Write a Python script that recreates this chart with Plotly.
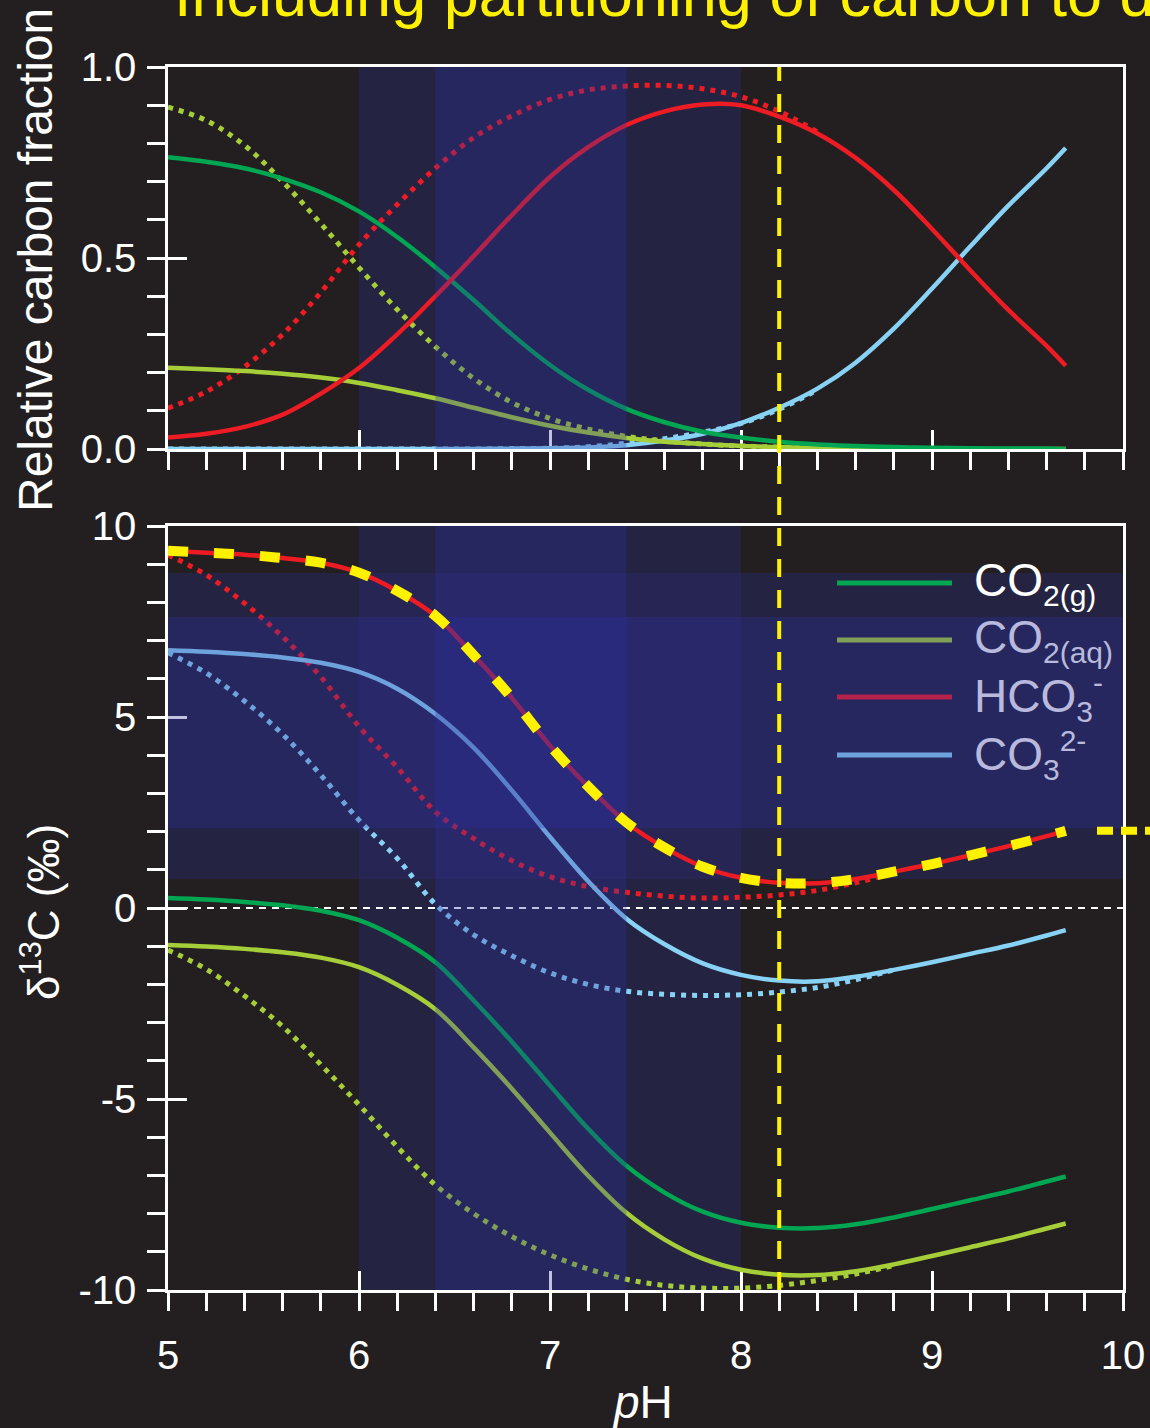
import plotly.graph_objects as go

# ---------------- data ----------------
PH = [5.0, 5.2, 5.4, 5.6, 5.8, 6.0, 6.2, 6.4, 6.6, 6.8, 7.0, 7.2, 7.4,
      7.6, 7.8, 8.0, 8.2, 8.4, 8.6, 8.8, 9.0, 9.2, 9.4, 9.6, 9.7]

# relative carbon fraction, incl. gas phase (solid lines)
FRAC_CO2G = [0.764, 0.752, 0.735, 0.708, 0.672, 0.622, 0.555, 0.476, 0.390, 0.300,
             0.220, 0.155, 0.105, 0.070, 0.045, 0.030, 0.019, 0.012, 0.008, 0.005,
             0.003, 0.002, 0.001, 0.001, 0.000]
FRAC_CO2AQ = [0.213, 0.209, 0.204, 0.197, 0.187, 0.173, 0.154, 0.133, 0.108, 0.083,
              0.061, 0.043, 0.029, 0.019, 0.013, 0.008, 0.005, 0.003, 0.002, 0.001,
              0.001, 0.000, 0.000, 0.000, 0.000]
FRAC_HCO3 = [0.030, 0.040, 0.058, 0.090, 0.145, 0.212, 0.300, 0.400, 0.505, 0.612,
             0.712, 0.790, 0.848, 0.884, 0.902, 0.900, 0.870, 0.826, 0.762, 0.678,
             0.576, 0.468, 0.364, 0.270, 0.218]
FRAC_CO3 = [0.000, 0.000, 0.000, 0.000, 0.000, 0.000, 0.000, 0.000, 0.000, 0.001,
            0.002, 0.004, 0.010, 0.022, 0.040, 0.068, 0.108, 0.158, 0.226, 0.315,
            0.420, 0.530, 0.637, 0.735, 0.788]

# relative carbon fraction, dissolved only (dotted lines)
FRAC_CO2AQ_CL = [0.895, 0.860, 0.795, 0.700, 0.590, 0.475, 0.365, 0.268, 0.185, 0.122,
                 0.080, 0.052, 0.033, 0.021, 0.013, 0.008, 0.005, 0.003,
                 None, None, None, None, None, None, None]
FRAC_HCO3_CL = [0.107, 0.150, 0.215, 0.300, 0.410, 0.535, 0.640, 0.735, 0.815, 0.872,
                0.915, 0.940, 0.950, 0.952, 0.943, 0.922, 0.884, 0.830,
                None, None, None, None, None, None, None]
FRAC_CO3_CL = [0.000, 0.000, 0.000, 0.000, 0.000, 0.000, 0.000, 0.000, 0.000, 0.001,
               0.002, 0.006, 0.015, 0.027, 0.044, 0.067, 0.104, 0.155,
               None, None, None, None, None, None, None]

# d13C (permil), incl. gas phase (solid lines)
D_CO2G = [0.26, 0.22, 0.16, 0.07, -0.07, -0.32, -0.78, -1.42, -2.42, -3.50,
          -4.65, -5.78, -6.75, -7.45, -7.95, -8.24, -8.37, -8.38, -8.28, -8.10,
          -7.88, -7.65, -7.42, -7.16, -7.03]
D_CO2AQ = [-0.97, -1.01, -1.07, -1.16, -1.30, -1.55, -2.01, -2.65, -3.65, -4.73,
           -5.88, -7.01, -7.98, -8.68, -9.18, -9.47, -9.60, -9.61, -9.51, -9.33,
           -9.11, -8.88, -8.65, -8.39, -8.26]
D_HCO3 = [9.35, 9.30, 9.25, 9.16, 9.04, 8.78, 8.30, 7.65, 6.62, 5.50,
          4.25, 3.18, 2.24, 1.58, 1.08, 0.79, 0.66, 0.65, 0.76, 0.95,
          1.15, 1.38, 1.62, 1.88, 2.02]
D_CO3 = [6.75, 6.71, 6.65, 6.56, 6.42, 6.18, 5.74, 5.08, 4.20, 3.08,
         1.86, 0.70, -0.28, -0.95, -1.45, -1.75, -1.90, -1.92, -1.80, -1.62,
         -1.42, -1.20, -0.98, -0.72, -0.58]

# d13C (permil), dissolved only (dotted lines)
D_CO2AQ_CL = [-1.10, -1.60, -2.30, -3.10, -4.10, -5.15, -6.25, -7.25, -8.00, -8.60,
              -9.08, -9.45, -9.72, -9.88, -9.95, -9.95, -9.88, -9.75, -9.58, -9.36,
              None, None, None, None, None]
D_HCO3_CL = [9.24, 8.72, 7.98, 7.10, 6.05, 4.75, 3.68, 2.52, 1.82, 1.24,
             0.82, 0.56, 0.41, 0.31, 0.26, 0.28, 0.34, 0.46, 0.66, 0.92,
             None, None, None, None, None]
D_CO3_CL = [6.68, 6.15, 5.42, 4.55, 3.48, 2.30, 1.30, 0.10, -0.70, -1.25,
            -1.70, -2.00, -2.18, -2.26, -2.29, -2.27, -2.20, -2.08, -1.88, -1.62,
            None, None, None, None, None]

PH_MARK = 8.2
BAND_OUTER_PH = [6.0, 8.0]
BAND_INNER_PH = [6.4, 7.4]
BAND_OUTER_D = [0.76, 8.77]
BAND_INNER_D = [2.09, 7.62]

SUB = '<span style="font-size:30px">{}</span>'
LEGEND_LABELS = ["CO<sub>" + SUB.format("2(g)") + "</sub>",
                 "CO<sub>" + SUB.format("2(aq)") + "</sub>",
                 "HCO<sub>" + SUB.format("3") + "</sub><sup>" + SUB.format("-") + "</sup>",
                 "CO<sub>" + SUB.format("3") + "</sub><sup>" + SUB.format("2-") + "</sup>"]
X_TICKS = [5, 6, 7, 8, 9, 10]
X_TICKTEXT = ["5", "6", "7", "8", "9", "10"]
FRAC_TICKS = [0.0, 0.5, 1.0]
FRAC_TICKTEXT = ["0.0", "0.5", "1.0"]
D_TICKS = [-10, -5, 0, 5, 10]
D_TICKTEXT = ["-10", "-5", "0", "5", "10"]
TITLE = "Including partitioning of carbon to different phases"
YTITLE_TOP = "Relative carbon fraction"
YTITLE_BOT = "δ<sup>13</sup>C (‰)"
XTITLE = "<i>p</i>H"

X_RANGE = [5, 10]
FRAC_RANGE = [0, 1]
D_RANGE = [-10, 10]

# ---------------- styling ----------------
W, H = 1150, 1428
ML, MR, MT, MB = 168, 27, 67, 138
PW, PHT = W - ML - MR, H - MT - MB
BG = "#231f20"
FONT = "Liberation Sans, Arial, Helvetica, sans-serif"
C_G, C_AQ, C_H, C_C, YEL = "#00a651", "#a6ce39", "#ed1c24", "#88d3f5", "#fff200"
OUTER = "rgba(40,40,100,0.5)"
INNER = "rgba(46,50,163,0.30)"
LAV = "#b8b9dc"


def px_x(px):
    return (px - ML) / PW


def px_y(py):
    return (H - MB - py) / PHT


Y_TOP_DOM = [px_y(449), 1.0]
Y_BOT_DOM = [0.0, px_y(526)]

fig = go.Figure()


def add_line(y, color, xa, ya, dotted=False):
    fig.add_trace(go.Scatter(
        x=PH, y=y, mode="lines", xaxis=xa, yaxis=ya,
        line=dict(color=color, width=5 if dotted else 4.5, shape="spline",
                  dash="5px,6px" if dotted else "solid"),
        showlegend=False, hoverinfo="skip"))


# top panel
add_line(FRAC_CO3_CL, C_C, "x", "y", dotted=True)
add_line(FRAC_CO2AQ_CL, C_AQ, "x", "y", dotted=True)
add_line(FRAC_HCO3_CL, C_H, "x", "y", dotted=True)
add_line(FRAC_CO3, C_C, "x", "y")
add_line(FRAC_CO2AQ, C_AQ, "x", "y")
add_line(FRAC_CO2G, C_G, "x", "y")
add_line(FRAC_HCO3, C_H, "x", "y")

# bottom panel
add_line(D_CO2AQ_CL, C_AQ, "x2", "y2", dotted=True)
add_line(D_CO3_CL, C_C, "x2", "y2", dotted=True)
add_line(D_HCO3_CL, C_H, "x2", "y2", dotted=True)
add_line(D_CO2G, C_G, "x2", "y2")
add_line(D_CO2AQ, C_AQ, "x2", "y2")
add_line(D_CO3, C_C, "x2", "y2")
add_line(D_HCO3, C_H, "x2", "y2")


def band(xr, yr, xa, ya):
    fig.add_trace(go.Scatter(
        x=[xr[0], xr[1], xr[1], xr[0], xr[0]],
        y=[yr[0], yr[0], yr[1], yr[1], yr[0]],
        mode="lines", fill="toself", fillcolor=INNER, line=dict(width=0),
        xaxis=xa, yaxis=ya, showlegend=False, hoverinfo="skip"))


band(BAND_INNER_PH, FRAC_RANGE, "x", "y")
band(BAND_INNER_PH, D_RANGE, "x2", "y2")
band(X_RANGE, BAND_INNER_D, "x2", "y2")

# yellow dashed overlay on HCO3-
fig.add_trace(go.Scatter(
    x=PH, y=D_HCO3, mode="lines", xaxis="x2", yaxis="y2",
    line=dict(color=YEL, width=10, shape="spline", dash="20px,26px"),
    showlegend=False, hoverinfo="skip"))

# dummy traces for the overlay (inside-tick) axes
fig.add_trace(go.Scatter(x=[None], y=[None], xaxis="x3", yaxis="y3",
                         showlegend=False, hoverinfo="skip"))
fig.add_trace(go.Scatter(x=[None], y=[None], xaxis="x4", yaxis="y4",
                         showlegend=False, hoverinfo="skip"))

common = dict(showline=True, mirror=True, linecolor="white", linewidth=2.5,
              showgrid=False, zeroline=False, ticks="outside", ticklen=18,
              tickwidth=2.5, tickcolor="white", layer="below traces",
              automargin=False,
              tickfont=dict(family=FONT, size=40, color="white"))
inner = dict(showline=False, showgrid=False, zeroline=False, ticks="inside",
             ticklen=19, tickwidth=2.5, tickcolor="white", showticklabels=False,
             layer="below traces", automargin=False)


def minor(t0, dt):
    return dict(tickmode="linear", tick0=t0, dtick=dt, ticks="outside",
                ticklen=18, tickwidth=2.5, tickcolor="white")


fig.update_layout(
    width=W, height=H,
    margin=dict(l=ML, r=MR, t=MT, b=MB, pad=0, autoexpand=False),
    paper_bgcolor=BG, plot_bgcolor=BG, showlegend=False,
    font=dict(family=FONT, color="white"),
    xaxis=dict(domain=[0, 1], range=X_RANGE, anchor="y", tickmode="array",
               tickvals=X_TICKS, ticktext=X_TICKTEXT, showticklabels=False,
               minor=minor(5, 0.2), **common),
    xaxis2=dict(domain=[0, 1], range=X_RANGE, anchor="y2", tickmode="array",
                tickvals=X_TICKS, ticktext=X_TICKTEXT, ticklabelstandoff=10,
                ticklabeloverflow="allow", minor=minor(5, 0.2), **common),
    yaxis=dict(domain=Y_TOP_DOM, range=FRAC_RANGE, anchor="x", tickmode="array",
               tickvals=FRAC_TICKS, ticktext=FRAC_TICKTEXT, ticklabelstandoff=3,
               minor=minor(0, 0.1), **common),
    yaxis2=dict(domain=Y_BOT_DOM, range=D_RANGE, anchor="x2", tickmode="array",
                tickvals=D_TICKS, ticktext=D_TICKTEXT, ticklabelstandoff=3,
                minor=minor(-10, 1), **common),
    xaxis3=dict(overlaying="x", anchor="y", range=X_RANGE, tickmode="array",
                tickvals=X_TICKS, **inner),
    yaxis3=dict(overlaying="y", anchor="x", range=FRAC_RANGE, tickmode="array",
                tickvals=FRAC_TICKS, **inner),
    xaxis4=dict(overlaying="x2", anchor="y2", range=X_RANGE, tickmode="array",
                tickvals=X_TICKS, **inner),
    yaxis4=dict(overlaying="y2", anchor="x2", range=D_RANGE, tickmode="array",
                tickvals=D_TICKS, **inner),
)

shapes = []
# outer (faint) bands, drawn below everything
shapes.append(dict(type="rect", layer="below", xref="x", yref="paper",
                   x0=BAND_OUTER_PH[0], x1=BAND_OUTER_PH[1],
                   y0=Y_TOP_DOM[0], y1=Y_TOP_DOM[1], fillcolor=OUTER, line=dict(width=0)))
shapes.append(dict(type="rect", layer="below", xref="x2", yref="paper",
                   x0=BAND_OUTER_PH[0], x1=BAND_OUTER_PH[1],
                   y0=Y_BOT_DOM[0], y1=Y_BOT_DOM[1], fillcolor=OUTER, line=dict(width=0)))
shapes.append(dict(type="rect", layer="below", xref="paper", yref="y2",
                   x0=0, x1=1, y0=BAND_OUTER_D[0], y1=BAND_OUTER_D[1],
                   fillcolor=OUTER, line=dict(width=0)))
# zero line
shapes.append(dict(type="line", layer="below", xref="paper", yref="y2",
                   x0=0, x1=1, y0=0, y1=0,
                   line=dict(color="white", width=2, dash="7px,6px")))
# legend swatches
LEG_Y = [583, 640, 697, 755]
LEG_COL = [C_G, C_AQ, C_H, C_C]
for py, col in zip(LEG_Y, LEG_COL):
    shapes.append(dict(type="line", layer="below", xref="paper", yref="paper",
                       x0=px_x(837), x1=px_x(952), y0=px_y(py), y1=px_y(py),
                       line=dict(color=col, width=5)))
# vertical pH marker
shapes.append(dict(type="line", layer="above", xref="x2", yref="paper",
                   x0=PH_MARK, x1=PH_MARK, y0=0, y1=1,
                   line=dict(color=YEL, width=4, dash="18px,13px")))
# horizontal yellow extension at end value (runs to the page edge)
shapes.append(dict(type="line", layer="above", xref="paper", yref="y2",
                   x0=px_x(1097), x1=px_x(1150), y0=D_HCO3[-1], y1=D_HCO3[-1],
                   line=dict(color=YEL, width=8, dash="16px,8px")))
fig.update_layout(shapes=shapes)

ann = []
ann.append(dict(text=TITLE, xref="paper", yref="paper", x=px_x(172), y=px_y(31),
                xanchor="left", yanchor="bottom", showarrow=False,
                font=dict(family=FONT, size=63, color=YEL)))
ann.append(dict(text=YTITLE_TOP, xref="paper", yref="paper", x=px_x(35), y=px_y(260),
                xanchor="center", yanchor="middle", textangle=-90, showarrow=False,
                font=dict(family=FONT, size=48, color="white")))
ann.append(dict(text=YTITLE_BOT, xref="paper", yref="paper", x=px_x(40), y=px_y(912),
                xanchor="center", yanchor="middle", textangle=-90, showarrow=False,
                font=dict(family=FONT, size=44, color="white")))
ann.append(dict(text=XTITLE, xref="paper", yref="paper", x=px_x(642), y=px_y(1402),
                xanchor="center", yanchor="middle", showarrow=False,
                font=dict(family=FONT, size=46, color="white")))
LEG_TXT_COL = ["white", LAV, LAV, LAV]
for lab, py, tc in zip(LEGEND_LABELS, LEG_Y, LEG_TXT_COL):
    ann.append(dict(text=lab, xref="paper", yref="paper", x=px_x(972), y=px_y(py),
                    xanchor="left", yanchor="middle", showarrow=False,
                    font=dict(family=FONT, size=46, color=tc)))
fig.update_layout(annotations=ann)

fig.write_html(
    "out.html",
    config={"displayModeBar": False},
    post_script="document.body.style.margin='0';document.body.style.overflow='hidden';",
)
